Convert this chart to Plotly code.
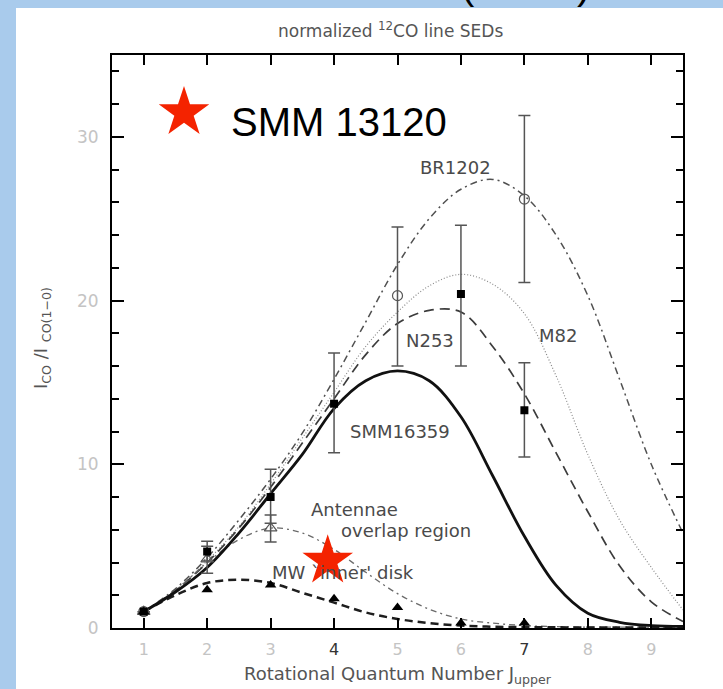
import plotly.graph_objects as go

# ---------------- data ----------------
J_fit = [1, 1.5, 2, 2.5, 3, 3.5, 4, 4.5, 5, 5.5, 6, 6.5, 7, 7.5, 8, 8.5, 9, 9.5]

fit_smm16359 = [1.0, 2.2, 3.7, 5.8, 8.2, 10.6, 13.4, 15.1, 15.7, 15.1, 12.9, 9.3, 5.6, 2.6, 0.9, 0.35, 0.15, 0.1]
fit_n253     = [1.0, 2.3, 4.0, 6.1, 8.6, 11.3, 14.0, 16.7, 18.6, 19.4, 19.3, 17.2, 14.3, 10.7, 7.1, 3.8, 1.6, 0.4]
fit_m82      = [1.0, 2.3, 4.1, 6.2, 8.8, 11.6, 14.4, 17.2, 19.3, 20.9, 21.6, 21.0, 19.2, 15.4, 10.6, 6.6, 3.7, 1.1]
fit_br1202   = [1.0, 2.4, 4.3, 6.6, 9.1, 11.9, 15.2, 18.7, 22.2, 25.0, 26.8, 27.4, 26.4, 24.0, 20.3, 15.2, 10.0, 5.8]
fit_antennae = [1.0, 2.3, 4.0, 5.4, 6.1, 5.8, 4.8, 3.4, 2.1, 1.15, 0.55, 0.3, 0.15, 0.08, 0.05, 0.05, 0.05, 0.05]
fit_mw       = [1.0, 2.0, 2.75, 2.95, 2.75, 2.15, 1.55, 0.95, 0.55, 0.3, 0.15, 0.08, 0.05, 0.04, 0.03, 0.03, 0.03, 0.03]

# filled squares (SMM16359)
sq_J = [1, 2, 3, 4, 6, 7]
sq_y = [1.0, 4.67, 8.0, 13.7, 20.4, 13.3]
sq_up = [0, 0.63, 1.7, 3.1, 4.2, 2.9]
sq_dn = [0, 0.57, 1.6, 3.0, 4.4, 2.85]

# open circles (BR1202)
ci_J = [1, 5, 7]
ci_y = [1.0, 20.3, 26.2]
ci_up = [0, 4.2, 5.1]
ci_dn = [0, 4.3, 5.1]

# open triangles (Antennae overlap region)
ot_J = [1, 2, 3]
ot_y = [1.0, 4.2, 6.1]
ot_up = [0, 0.8, 0.8]
ot_dn = [0, 0.85, 0.85]

# filled triangles (MW inner disk)
tr_J = [1, 2, 3, 4, 5, 6, 7]
tr_y = [1.0, 2.33, 2.63, 1.78, 1.25, 0.3, 0.3]

# SMM 13120
smm13120_J = [3.9]
smm13120_y = [4.1]

x_tick_vals = [1, 2, 3, 4, 5, 6, 7, 8, 9]
y_tick_vals = [0, 10, 20, 30]

# ---------------- styling helpers ----------------
L, R, T, B = 112, 40, 55, 61
W, H = 723, 689
PW, PH = W - L - R, H - T - B


def pxx(x):
    return (x - L) / PW


def pxy(y):
    return (H - B - y) / PH


GRAY = "#4a4a4a"
LIGHT = "#c4c4c4"
RED = "#f42300"
BLUE = "#a9cbec"
FONT = "DejaVu Sans"

fig = go.Figure()


def curve(y, dash, width, color):
    fig.add_trace(go.Scatter(x=J_fit, y=y, mode="lines",
                             line=dict(color=color, width=width, dash=dash, shape="spline", smoothing=1.0),
                             hoverinfo="skip", showlegend=False))


curve(fit_m82, "1px,2px", 1.2, "#8a8a8a")
curve(fit_br1202, "7px,4px,2px,4px", 1.5, "#505050")
curve(fit_n253, "10px,6px", 1.7, "#3c3c3c")
curve(fit_antennae, "6px,4px,2px,4px", 1.3, "#6a6a6a")
curve(fit_mw, "8px,5px", 2.5, "#1e1e1e")
curve(fit_smm16359, "solid", 2.8, "#111111")

err_style = dict(type="data", symmetric=False, color="#555555", thickness=1.5, width=6)

fig.add_trace(go.Scatter(x=ot_J, y=ot_y, mode="markers",
                         marker=dict(symbol="triangle-up-open", size=11, color="#555555", line=dict(width=1.2)),
                         error_y=dict(array=ot_up, arrayminus=ot_dn, **err_style),
                         showlegend=False, hoverinfo="skip"))
fig.add_trace(go.Scatter(x=ci_J, y=ci_y, mode="markers",
                         marker=dict(symbol="circle-open", size=10, color="#555555", line=dict(width=1.2)),
                         error_y=dict(array=ci_up, arrayminus=ci_dn, **err_style),
                         showlegend=False, hoverinfo="skip"))
fig.add_trace(go.Scatter(x=sq_J, y=sq_y, mode="markers",
                         marker=dict(symbol="square", size=8, color="black"),
                         error_y=dict(array=sq_up, arrayminus=sq_dn, **err_style),
                         showlegend=False, hoverinfo="skip"))
fig.add_trace(go.Scatter(x=tr_J, y=tr_y, mode="markers",
                         marker=dict(symbol="triangle-up", size=10, color="black"),
                         showlegend=False, hoverinfo="skip"))

# in-plot labels
labels = [
    ("BR1202", 455, 167), ("N253", 430, 340), ("M82", 558, 335),
    ("SMM16359", 400, 432), ("Antennae", 354, 509), ("overlap region", 406, 530),
    ("MW `inner' disk", 343, 572),
]
annotations = []
for txt, x, y in labels:
    annotations.append(dict(text=txt, x=pxx(x), y=pxy(y), xref="paper", yref="paper",
                            showarrow=False, xanchor="center", yanchor="middle",
                            font=dict(family=FONT, size=18, color=GRAY)))

# SMM 13120 point (drawn over labels via a trace on top)
fig.add_trace(go.Scatter(x=smm13120_J, y=smm13120_y, mode="markers",
                         marker=dict(symbol="star", size=38, color=RED, line=dict(width=0)),
                         showlegend=False, hoverinfo="skip"))

# legend key for SMM 13120 on an overlay axis in page-fraction units
LEG_STAR = (pxx(184), pxy(112.5))
fig.add_trace(go.Scatter(x=[LEG_STAR[0]], y=[LEG_STAR[1]], mode="markers", xaxis="x2", yaxis="y2",
                         marker=dict(symbol="star", size=38, color=RED, line=dict(width=0)),
                         showlegend=False, hoverinfo="skip", cliponaxis=False))

annotations += [
    dict(text="SMM 13120", x=pxx(229), y=pxy(122), xref="paper", yref="paper", showarrow=False,
         xanchor="left", yanchor="middle", font=dict(family="Liberation Sans, Arial", size=40, color="black")),
    dict(text="normalized <sup>12</sup>CO line SEDs", x=pxx(390), y=pxy(30), xref="paper", yref="paper",
         showarrow=False, xanchor="center", yanchor="middle", font=dict(family=FONT, size=17, color="#555555")),
    dict(text="Rotational Quantum Number J<sub>upper</sub>", x=pxx(398), y=pxy(675), xref="paper", yref="paper",
         showarrow=False, xanchor="center", yanchor="middle", font=dict(family=FONT, size=18, color="#555555")),
    dict(text="I<sub>CO</sub> /I <sub>CO(1\u22120)</sub>", x=pxx(42), y=pxy(338), xref="paper", yref="paper",
         showarrow=False, xanchor="center", yanchor="middle", textangle=-90,
         font=dict(family=FONT, size=18, color="#555555")),
    dict(text="(", x=pxx(468), y=pxy(9), xref="paper", yref="paper", showarrow=False,
         xanchor="center", yanchor="bottom", font=dict(family="Liberation Sans", size=40, color="black")),
    dict(text=")", x=pxx(583), y=pxy(9), xref="paper", yref="paper", showarrow=False,
         xanchor="center", yanchor="bottom", font=dict(family="Liberation Sans", size=40, color="black")),
]

shapes = [
    dict(type="rect", xref="paper", yref="paper", x0=pxx(0), x1=pxx(16), y0=pxy(H), y1=pxy(0),
         fillcolor=BLUE, line=dict(width=0), layer="below"),
    dict(type="rect", xref="paper", yref="paper", x0=pxx(0), x1=pxx(W), y0=pxy(8), y1=pxy(0),
         fillcolor=BLUE, line=dict(width=0), layer="below"),
]

x_tick_text = []
for v in x_tick_vals:
    c = "#333333" if v in (4, 7) else LIGHT
    x_tick_text.append(f"<span style='color:{c}'>{v}</span>")

fig.update_layout(
    width=W, height=H,
    margin=dict(l=L, r=R, t=T, b=B, pad=0),
    paper_bgcolor="white", plot_bgcolor="white",
    annotations=annotations, shapes=shapes,
    xaxis=dict(range=[0.5, 9.5], tickvals=x_tick_vals, ticktext=x_tick_text,
               ticks="inside", ticklen=10, tickwidth=1.5, tickcolor="black",
               showline=True, linewidth=2, linecolor="black", mirror="ticks",
               showgrid=False, zeroline=False, ticklabelstandoff=6,
               tickfont=dict(family=FONT, size=16, color=LIGHT)),
    yaxis=dict(range=[0, 35], tickvals=y_tick_vals, ticks="inside", ticklen=12, tickwidth=1.5,
               tickcolor="black", showline=True, linewidth=2, linecolor="black", mirror="ticks",
               showgrid=False, zeroline=False, ticklabelstandoff=8,
               minor=dict(dtick=2, tick0=0, ticks="inside", ticklen=7, tickwidth=1.5, tickcolor="black",
                          showgrid=False),
               tickfont=dict(family=FONT, size=17, color=LIGHT)),
    xaxis2=dict(overlaying="x", range=[0, 1], visible=False, fixedrange=True),
    yaxis2=dict(overlaying="y", range=[0, 1], visible=False, fixedrange=True),
)

fig.write_html("out.html")
